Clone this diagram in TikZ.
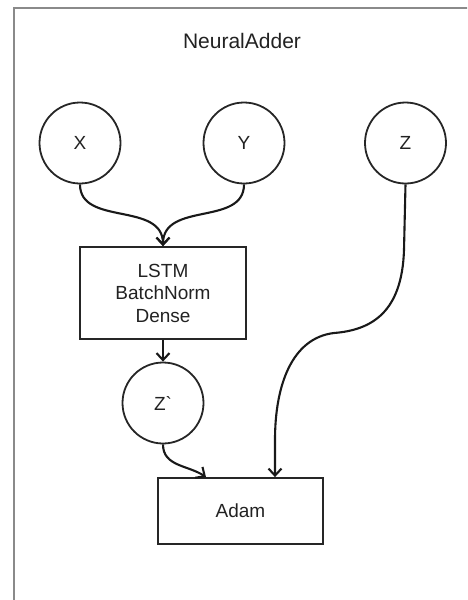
\documentclass[tikz,border=0pt]{standalone}
\usepackage{fontspec}
\setmainfont{Liberation Sans}
\usetikzlibrary{arrows.meta}
\definecolor{framegray}{HTML}{8A8A8A}
\definecolor{txt}{HTML}{222222}
\tikzset{
  every node/.style={text=txt},
  ball/.style={circle, draw=black!85, line width=1.8pt, minimum size=81pt, inner sep=0pt, font=\fontsize{19}{22}\selectfont},
  boxnode/.style={rectangle, draw=black!85, line width=1.8pt, inner sep=0pt, font=\fontsize{19}{22.5}\selectfont, align=center},
  link/.style={draw=black!90, line width=2.1pt, -{Straight Barb[length=7pt,width=13pt]}},
}
\begin{document}
\begin{tikzpicture}[x=1pt,y=-1pt]
\useasboundingbox (0,0) rectangle (467,600);
\begin{scope}
\clip (0,0) rectangle (467,600);
\draw[framegray, line width=2pt] (14,8) rectangle (480,620);
\end{scope}
\node[font=\fontsize{21}{24}\selectfont] (title) at (242,41) {NeuralAdder};
\node[ball] (X) at (80,143) {X};
\node[ball] (Y) at (244,143) {Y};
\node[ball] (Z) at (405.5,143) {Z};
\node[boxnode, minimum width=166pt, minimum height=92pt] (L) at (163,293) {LSTM\\BatchNorm\\Dense};
\node[ball] (Zp) at (163,403) {Z\textasciigrave};
\node[boxnode, minimum width=165pt, minimum height=66pt] (A) at (240.5,511) {Adam};
\coordinate (zbend) at (334,333);
\coordinate (adamin) at (206,478);
\draw[link] (X.south) .. controls +(0,42) and +(0,-45) .. (L.north);
\draw[link] (Y.south) .. controls +(0,42) and +(0,-45) .. (L.north);
\draw[link] (L.south) -- (Zp.north);
\draw[link] (Z.south) -- (404,250) .. controls (402,312) and (372,330) .. (zbend) .. controls (292,338) and (275,385) .. (275,440) -- (A.north -| 275,0);
\draw[link] (Zp.south) .. controls +(0,22) and +(-18,-12) .. (A.north -| adamin);
\end{tikzpicture}
\end{document}
